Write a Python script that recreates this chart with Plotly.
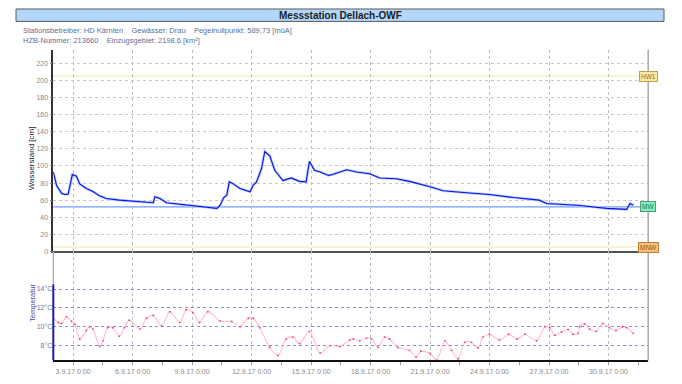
import plotly.graph_objects as go

# ---------------- data ----------------
level_time = [
    "2017-09-02 00:00", "2017-09-02 04:00", "2017-09-02 10:00", "2017-09-02 14:00",
    "2017-09-02 18:00", "2017-09-02 20:00", "2017-09-02 23:00", "2017-09-03 04:00",
    "2017-09-03 08:00", "2017-09-03 16:00", "2017-09-04 00:00", "2017-09-04 08:00",
    "2017-09-04 16:00", "2017-09-05 08:00", "2017-09-06 00:00", "2017-09-06 16:00",
    "2017-09-07 01:00", "2017-09-07 03:00", "2017-09-07 09:00", "2017-09-07 17:00",
    "2017-09-08 09:00", "2017-09-09 01:00", "2017-09-09 17:00", "2017-09-10 06:00",
    "2017-09-10 10:00", "2017-09-10 14:00", "2017-09-10 18:00", "2017-09-10 21:00",
    "2017-09-11 02:00", "2017-09-11 10:00", "2017-09-11 22:00", "2017-09-12 02:00",
    "2017-09-12 06:00", "2017-09-12 12:00", "2017-09-12 16:00", "2017-09-12 22:00",
    "2017-09-13 04:00", "2017-09-13 14:00", "2017-09-14 00:00", "2017-09-14 10:00",
    "2017-09-14 18:00", "2017-09-14 22:00", "2017-09-15 04:00", "2017-09-15 11:00",
    "2017-09-15 21:00", "2017-09-16 02:00", "2017-09-16 19:00", "2017-09-17 07:00",
    "2017-09-17 23:00", "2017-09-18 11:00", "2017-09-19 07:00", "2017-09-19 23:00",
    "2017-09-21 00:00", "2017-09-21 16:00", "2017-09-22 20:00", "2017-09-24 00:00",
    "2017-09-25 05:00", "2017-09-26 12:00", "2017-09-26 21:00", "2017-09-28 10:00",
    "2017-09-29 22:00", "2017-09-30 22:00", "2017-10-01 02:00", "2017-10-01 06:00",
]
level_cm = [
    93, 77, 68, 66.6, 67, 77, 90, 88,
    79, 73.6, 70, 65, 62, 60, 58.8, 57.8,
    57, 64, 62, 57, 55.4, 53, 51.5, 50.3,
    54, 62.8, 65.8, 81.4, 79, 73.6, 69.8, 77.5,
    81.4, 97, 117, 112, 95, 83, 86, 82,
    81.4, 105.5, 95, 93, 89, 90, 95.5, 93,
    91, 86, 85, 82, 75.6, 71, 68.6, 66.6,
    63, 60, 56, 54, 50.3, 49.2, 56, 54,
]

temp_time = [
    "2017-09-02 00:00", "2017-09-02 06:00", "2017-09-02 10:00", "2017-09-02 16:00",
    "2017-09-02 22:00", "2017-09-03 02:00", "2017-09-03 08:00", "2017-09-03 16:00",
    "2017-09-03 20:00", "2017-09-04 00:00", "2017-09-04 08:00", "2017-09-04 12:00",
    "2017-09-04 18:00", "2017-09-05 00:00", "2017-09-05 08:00", "2017-09-05 14:00",
    "2017-09-05 20:00", "2017-09-06 09:00", "2017-09-06 17:00", "2017-09-07 01:00",
    "2017-09-07 11:00", "2017-09-07 21:00", "2017-09-08 09:00", "2017-09-08 17:00",
    "2017-09-09 01:00", "2017-09-09 09:00", "2017-09-09 19:00", "2017-09-10 10:00",
    "2017-09-11 00:00", "2017-09-11 10:00", "2017-09-11 20:00", "2017-09-12 02:00",
    "2017-09-12 10:00", "2017-09-12 22:00", "2017-09-13 08:00", "2017-09-13 18:00",
    "2017-09-14 02:00", "2017-09-14 10:00", "2017-09-14 22:00", "2017-09-15 11:00",
    "2017-09-15 23:00", "2017-09-16 11:00", "2017-09-16 23:00", "2017-09-17 03:00",
    "2017-09-17 11:00", "2017-09-17 19:00", "2017-09-18 01:00", "2017-09-18 09:00",
    "2017-09-18 17:00", "2017-09-18 23:00", "2017-09-19 09:00", "2017-09-19 23:00",
    "2017-09-20 07:00", "2017-09-20 13:00", "2017-09-21 00:00", "2017-09-21 08:00",
    "2017-09-21 18:00", "2017-09-22 02:00", "2017-09-22 10:00", "2017-09-22 18:00",
    "2017-09-23 02:00", "2017-09-23 10:00", "2017-09-23 16:00", "2017-09-24 00:00",
    "2017-09-24 12:00", "2017-09-24 23:00", "2017-09-25 09:00", "2017-09-25 19:00",
    "2017-09-26 09:00", "2017-09-26 19:00", "2017-09-27 01:00", "2017-09-27 07:00",
    "2017-09-27 15:00", "2017-09-27 23:00", "2017-09-28 05:00", "2017-09-28 11:00",
    "2017-09-28 13:00", "2017-09-28 19:00", "2017-09-29 01:00", "2017-09-29 09:00",
    "2017-09-29 17:00", "2017-09-30 01:00", "2017-09-30 09:00", "2017-09-30 17:00",
    "2017-09-30 22:00", "2017-10-01 06:00",
]
temp_c = [
    10.9, 10.45, 10.35, 11.05, 10.56, 10.28, 8.7, 9.6,
    10.0, 9.75, 7.93, 8.5, 9.9, 9.9, 9.0, 9.9,
    10.7, 9.75, 10.9, 11.2, 10.1, 11.6, 10.45, 11.8,
    11.5, 10.45, 11.6, 10.6, 10.56, 10.0, 10.9, 10.9,
    9.9, 7.8, 6.95, 8.7, 8.9, 8.2, 9.5, 7.2,
    8.0, 7.9, 8.6, 8.7, 8.5, 8.8, 8.7, 7.8,
    8.9, 8.7, 7.8, 7.5, 6.8, 7.4, 7.16, 6.45,
    8.5, 7.5, 6.6, 8.35, 8.35, 7.75, 8.9, 9.2,
    8.6, 9.2, 8.7, 9.2, 8.5, 10.0, 9.9, 9.1,
    9.45, 9.7, 9.2, 9.3, 10.0, 10.3, 9.75, 9.5,
    10.35, 9.9, 9.6, 10.0, 9.9, 9.3,
]

x_tickvals = ["2017-09-03", "2017-09-06", "2017-09-09", "2017-09-12", "2017-09-15",
              "2017-09-18", "2017-09-21", "2017-09-24", "2017-09-27", "2017-09-30"]
x_ticktext = ["3.9.17 0:00", "6.9.17 0:00", "9.9.17 0:00", "12.9.17 0:00", "15.9.17 0:00",
              "18.9.17 0:00", "21.9.17 0:00", "24.9.17 0:00", "27.9.17 0:00", "30.9.17 0:00"]
x_minor = ["2017-09-04 12:00", "2017-09-07 12:00", "2017-09-10 12:00", "2017-09-13 12:00",
           "2017-09-16 12:00", "2017-09-19 12:00", "2017-09-22 12:00", "2017-09-25 12:00",
           "2017-09-28 12:00", "2017-10-01 12:00"]
level_ticks = [0, 20, 40, 60, 80, 100, 120, 140, 160, 180, 200, 220]
temp_ticks = [8, 10, 12, 14]
temp_ticktext = ["8°C", "10°C", "12°C", "14°C"]

HW1, MW, MNW = 205, 52, 5

# ---------------- layout helpers ----------------
OFF = 8                      # page body margin
W, H = 682 - OFF, 384 - OFF  # figure size
def px(x):
    return (x - OFF) / W
def py(y):
    return 1 - (y - OFF) / H

X_LEFT, X_RIGHT = 53.3, 648.2
TOP_Y0, TOP_Y1 = 50, 253.3
BOT_Y1 = 363.3
x_range = ["2017-09-02 00:00", "2017-10-02 00:00"]
FONT = "Liberation Sans, Arial, sans-serif"

fig = go.Figure()

# water level (halo + line)
fig.add_trace(go.Scatter(x=level_time, y=level_cm, mode="lines",
                         line=dict(color="#b4c8ff", width=2.6),
                         xaxis="x", yaxis="y", hoverinfo="skip", showlegend=False))
fig.add_trace(go.Scatter(x=level_time, y=level_cm, mode="lines",
                         line=dict(color="#0a14e6", width=1.1),
                         xaxis="x", yaxis="y", name="Wasserstand", showlegend=False))

# temperature
fig.add_trace(go.Scatter(x=temp_time, y=temp_c, mode="lines+markers",
                         line=dict(color="#ffbccc", width=1.1, shape="spline", smoothing=0.8),
                         marker=dict(color="#e8407a", size=1.8),
                         xaxis="x2", yaxis="y2", name="Temperatur", showlegend=False))

shapes = []
for val, col, w in [(HW1, "#f5f2c8", 1.5), (MW, "#6f9cff", 1.2), (MNW, "#f5f2c8", 1.5)]:
    shapes.append(dict(type="line", xref="paper", yref="y", x0=px(X_LEFT), x1=px(X_RIGHT),
                       y0=val, y1=val, line=dict(color=col, width=w), layer="below"))
# title bar
shapes.append(dict(type="rect", xref="paper", yref="paper", x0=px(16), x1=px(664),
                   y0=py(21.5), y1=py(9), fillcolor="#b3d7fb", line=dict(color="#5a5a5a", width=1)))
# right border of plot area
shapes.append(dict(type="line", xref="paper", yref="paper", x0=px(X_RIGHT), x1=px(X_RIGHT),
                   y0=py(BOT_Y1), y1=py(TOP_Y0), line=dict(color="#a8a8a8", width=1.5)))
# left gray line between the panels
shapes.append(dict(type="line", xref="paper", yref="paper", x0=px(X_LEFT), x1=px(X_LEFT),
                   y0=py(286), y1=py(TOP_Y1), line=dict(color="#a0a0a0", width=1.2)))
# temperature axis line
shapes.append(dict(type="line", xref="paper", yref="y2", x0=px(X_LEFT), x1=px(X_LEFT),
                   y0=6.42, y1=14.5, line=dict(color="#1c1ca8", width=2)))

annotations = [
    dict(text="<b>Messstation Dellach-OWF</b>", xref="paper", yref="paper", x=px(340), y=py(15.3),
         showarrow=False, font=dict(family=FONT, size=10, color="#222"), xanchor="center", yanchor="middle"),
    dict(text="Stationsbetreiber: HD Kärnten    Gewässer: Drau    Pegelnullpunkt: 589,73 [müA]",
         xref="paper", yref="paper", x=px(21), y=py(31), showarrow=False, xanchor="left", yanchor="middle",
         font=dict(family=FONT, size=7.5, color="#5f6f96")),
    dict(text="HZB-Nummer: 213660    Einzugsgebiet: 2198,6 [km²]",
         xref="paper", yref="paper", x=px(21), y=py(41), showarrow=False, xanchor="left", yanchor="middle",
         font=dict(family=FONT, size=7.5, color="#5f6f96")),
    dict(text="Wasserstand [cm]", xref="paper", yref="paper", x=px(25), y=py(160), textangle=-90,
         showarrow=False, font=dict(family=FONT, size=8, color="#222")),
    dict(text="Temperatur", xref="paper", yref="paper", x=px(26), y=py(327), textangle=-90,
         showarrow=False, font=dict(family=FONT, size=7.5, color="#4a4ab0")),
]
for label, val, bg, bc, tc in [("HW1", HW1, "#fbe8a0", "#c0a050", "#8a7040"),
                               ("MW", MW, "#7ef0c0", "#4aa07a", "#2f6f55"),
                               ("MNW", MNW, "#f9c07c", "#c08038", "#8a5a20")]:
    annotations.append(dict(text=label, xref="paper", yref="y", x=px(X_RIGHT), y=val,
                            showarrow=False, xanchor="center", yanchor="middle",
                            bgcolor=bg, bordercolor=bc, borderwidth=1, borderpad=1,
                            font=dict(family=FONT, size=6.5, color=tc)))

fig.update_layout(
    width=W, height=H, autosize=False,
    margin=dict(l=0, r=0, t=0, b=0),
    paper_bgcolor="white", plot_bgcolor="white",
    showlegend=False,
    font=dict(family=FONT, size=7, color="#888"),
    shapes=shapes, annotations=annotations,
    xaxis=dict(domain=[px(X_LEFT), px(X_RIGHT)], range=x_range, type="date", anchor="y",
               tickmode="array", tickvals=x_tickvals, showticklabels=False,
               showgrid=True, gridcolor="#bdbdbd", griddash="dot", gridwidth=1,
               showline=True, linecolor="#555", linewidth=1.5, zeroline=False, ticks=""),
    yaxis=dict(domain=[py(TOP_Y1), py(TOP_Y0)], range=[0, 236.3], anchor="x",
               tickmode="array", tickvals=level_ticks,
               tickfont=dict(family=FONT, size=7, color="#8a8a8a"),
               showgrid=True, gridcolor="#c8c8c8", griddash="dot", gridwidth=1,
               showline=True, linecolor="#333", linewidth=1.5, zeroline=False,
               ticks="outside", ticklen=2, tickcolor="#888"),
    xaxis2=dict(domain=[px(X_LEFT), px(X_RIGHT)], range=x_range, type="date", anchor="y2",
                tickmode="array", tickvals=x_tickvals, ticktext=x_ticktext,
                tickfont=dict(family=FONT, size=7, color="#8a8a8a"),
                showgrid=True, gridcolor="#bdbdbd", griddash="dot", gridwidth=1,
                showline=True, linecolor="#111", linewidth=1.5, zeroline=False,
                ticks="outside", ticklen=3, tickcolor="#999",
                minor=dict(tickmode="array", tickvals=x_minor, ticks="outside", ticklen=3,
                           tickcolor="#999", showgrid=False)),
    yaxis2=dict(domain=[py(BOT_Y1), py(TOP_Y1)], range=[6.42, 18.0], anchor="x2",
                tickmode="array", tickvals=temp_ticks, ticktext=temp_ticktext,
                tickfont=dict(family=FONT, size=7, color="#7272a8"),
                showgrid=True, gridcolor="#8a8ad6", griddash="dot", gridwidth=1,
                showline=False, zeroline=False, ticks=""),
)

fig.write_html("out.html")
